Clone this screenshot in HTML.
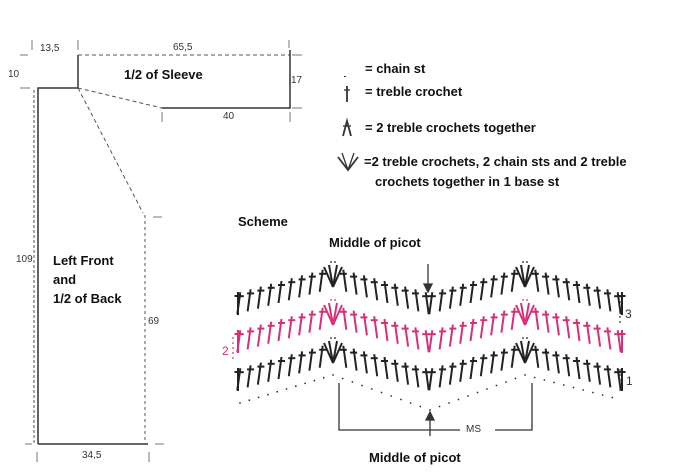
<!DOCTYPE html>
<html><head><meta charset="utf-8"><style>
body{margin:0;background:#fff;width:690px;height:474px;overflow:hidden}
svg{display:block}
text{font-family:"Liberation Sans",sans-serif}
.b{font-weight:bold;font-size:13px;fill:#111}
.d{font-size:10px;fill:#333}
</style></head><body>
<svg id="s" width="690" height="474" viewBox="0 0 690 474">
<g stroke="#555" fill="none" stroke-width="1.5">
<polyline points="38,444 38,88 78,88 78,55" stroke="#333"/>
<line x1="34" y1="90" x2="34" y2="444" stroke-dasharray="3,2" stroke-width="1"/>
<line x1="38" y1="444" x2="148" y2="444" stroke="#333"/>
<line x1="145" y1="215" x2="145" y2="444" stroke-dasharray="3,3" stroke-width="1"/>
<line x1="78" y1="88" x2="143" y2="213" stroke-dasharray="4,3" stroke-width="1"/>
<line x1="78" y1="55" x2="290" y2="55" stroke-dasharray="4,3" stroke-width="1"/>
<polyline points="290,50 290,108 162,108" stroke="#333"/>
<line x1="78" y1="88" x2="162" y2="108" stroke-dasharray="4,3" stroke-width="1"/>
<g stroke-width="1" stroke="#777">
<line x1="32" y1="40" x2="32" y2="50"/><line x1="78" y1="40" x2="78" y2="50"/>
<line x1="289" y1="40" x2="289" y2="48"/><line x1="20" y1="55" x2="28" y2="55"/>
<line x1="20" y1="88" x2="30" y2="88"/><line x1="292" y1="55" x2="302" y2="55"/>
<line x1="292" y1="108" x2="302" y2="108"/><line x1="162" y1="112" x2="162" y2="122"/>
<line x1="290" y1="112" x2="290" y2="122"/><line x1="153" y1="217" x2="162" y2="217"/>
<line x1="25" y1="444" x2="32" y2="444"/><line x1="155" y1="444" x2="164" y2="444"/>
<line x1="37" y1="452" x2="37" y2="462"/><line x1="149" y1="452" x2="149" y2="462"/>
</g></g>
<text class="d" x="40" y="51">13,5</text><text class="d" x="173" y="50">65,5</text>
<text class="d" x="8" y="77">10</text><text class="d" x="291" y="83">17</text>
<text class="d" x="223" y="119">40</text><text class="d" x="16" y="262">109</text>
<text class="d" x="148" y="324">69</text><text class="d" x="82" y="458">34,5</text>
<text class="b" x="124" y="79">1/2 of Sleeve</text>
<text class="b" x="53" y="265">Left Front</text><text class="b" x="53" y="284">and</text><text class="b" x="53" y="303">1/2 of Back</text>
<text class="b" x="365" y="73">= chain st</text>
<text class="b" x="365" y="96">= treble crochet</text>
<text class="b" x="365" y="132">= 2 treble crochets together</text>
<text class="b" x="364" y="166">=2 treble crochets, 2 chain sts and 2 treble</text>
<text class="b" x="375" y="186">crochets together in 1 base st</text>
<text class="b" x="238" y="226">Scheme</text>
<text class="b" x="329" y="247">Middle of picot</text>
<text class="b" x="369" y="462">Middle of picot</text>
<text class="d" x="466" y="432">MS</text>
<text x="625" y="318" font-size="12" fill="#333">3</text>
<text x="626" y="385" font-size="12" fill="#333">1</text>
<text x="222" y="355" font-size="12" fill="#d0306e">2</text>
<g id="g" stroke-width="2" fill="none"></g>
<g stroke="#333" stroke-width="1.3" fill="none">
<polyline points="339,383 339,430 460,430"/><polyline points="495,430 532,430 532,383"/>
<line x1="430" y1="436" x2="430" y2="416"/><polygon points="426,420 434,420 430,412" fill="#333"/>
<line x1="428" y1="264" x2="428" y2="288"/><polygon points="424,284 432,284 428,292" fill="#333"/>
<line x1="345" y1="76" x2="345" y2="77" stroke-width="2"/>
<line x1="347" y1="86" x2="347" y2="102" stroke-width="1.8"/><line x1="344" y1="90" x2="350" y2="90"/>
<polyline points="343,136 347,121 351,136" stroke-width="1.8"/><line x1="343" y1="126" x2="351" y2="126"/>
<polyline points="338,157 348,170 358,157" stroke-width="1.8"/><line x1="348" y1="170" x2="342" y2="153"/><line x1="348" y1="170" x2="354" y2="153"/>
</g>
</svg>
<script>
var g=document.getElementById('g'),h='';
function L(a,b,c,d,col){h+='<line x1="'+a+'" y1="'+b+'" x2="'+c+'" y2="'+d+'" stroke="'+col+'"/>';}
function D(x,y,col){h+='<circle cx="'+x+'" cy="'+y+'" r="0.9" fill="'+col+'"/>';}
var V=[333,525];
function row(dy,col){
 for(var k=0;k<2;k++){var v=V[k];
  for(var i=1;i<=9;i++){
   [-1,1].forEach(function(s){
    var x=v+s*(i*10.3);var t=343+dy+i*2.8;
    L(x,t,x+s*3,t+22,col);L(x-3.5,t+4,x+3.5,t+4,col);
   });
  }
  L(v,363+dy,v-9,343+dy,col);L(v,363+dy,v+9,343+dy,col);L(v,363+dy,v-4,341+dy,col);L(v,363+dy,v+4,341+dy,col);
  D(v-2,338+dy,col);D(v+2,338+dy,col);
 }
 var ex=[238,622];ex.forEach(function(x){L(x,368+dy,x,391+dy,col);L(x-3.5,372+dy,x+3.5,372+dy,col);});
}
row(0,'#222');row(-38,'#d6307a');row(-76,'#222');
var pts=[[240,403],[333,375],[430,410],[525,375],[622,400]];
for(var j=0;j<4;j++){var a=pts[j],b=pts[j+1];for(var t=0;t<10;t++){D(a[0]+(b[0]-a[0])*t/10,a[1]+(b[1]-a[1])*t/10,'#333');}}
for(var y=370;y<=392;y+=5){D(620,y,'#333');}
for(var y=302;y<=322;y+=5){D(620,y,'#333');}
for(var y=338;y<=360;y+=5){D(233,y,'#d6307a');}
g.innerHTML=h;
</script>
</body></html>
